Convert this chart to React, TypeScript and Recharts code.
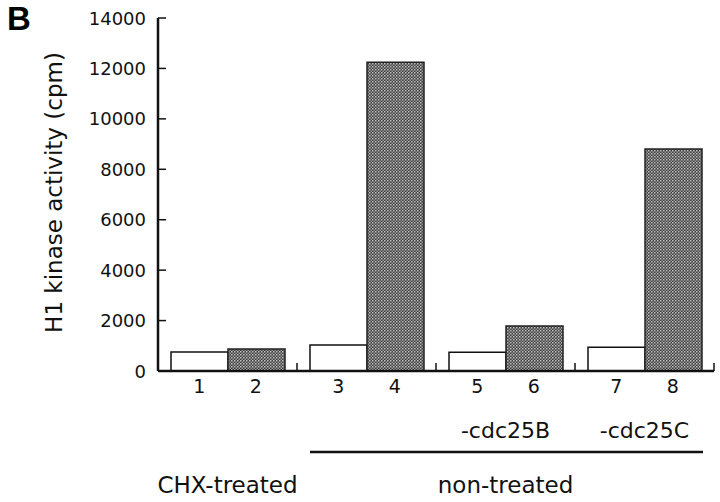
import React from 'react';
import { BarChart, Bar, XAxis, YAxis, Label } from 'recharts';

const groups = ['g1', 'g2', 'g3', 'g4'];
const laneLabels = ['1', '2', '3', '4', '5', '6', '7', '8'];
const subLabels = ['', '', '-cdc25B', '-cdc25C'];
const whiteValues = [750, 1030, 740, 940];
const grayValues = [870, 12250, 1780, 8800];
const yTicks = [0, 2000, 4000, 6000, 8000, 10000, 12000, 14000];
const treatments = [
  { label: 'CHX-treated', from: 0, to: 0 },
  { label: 'non-treated', from: 1, to: 3 },
];

const data = groups.map((g, i) => ({ group: g, white: whiteValues[i], gray: grayValues[i] }));

const W = 720;
const H = 502;
const AXIS_W = 158;
const MARGIN = { top: 18, right: 6, left: 0, bottom: 0 };
const X_AXIS_H = 131;
const BAND = (W - AXIS_W - MARGIN.right) / groups.length;
const GAP = 13;
const BAR_W = (BAND - 2 * GAP) / 2;
const FONT = '"DejaVu Sans", Arial, sans-serif';

function XTick(props: any) {
  const { x, y, payload } = props;
  const i = payload.index;
  const left = x - BAND / 2 + GAP;
  const tr = treatments.find((t) => t.from === i);
  return (
    <g fontFamily={FONT} fill="#111">
      <text x={left + BAR_W / 2} y={y + 22} textAnchor="middle" fontSize={19}>{laneLabels[i * 2]}</text>
      <text x={left + BAR_W * 1.5} y={y + 22} textAnchor="middle" fontSize={19}>{laneLabels[i * 2 + 1]}</text>
      <line x1={x + BAND / 2} x2={x + BAND / 2} y1={y} y2={y - 8} stroke="#111" strokeWidth={1.5} />
      {subLabels[i] && (
        <text x={x} y={y + 67} textAnchor="middle" fontSize={22}>{subLabels[i]}</text>
      )}
      {tr && tr.to > tr.from && (
        <line
          x1={left}
          x2={x + (tr.to - tr.from) * BAND + BAND / 2 - GAP + 2}
          y1={y + 81}
          y2={y + 81}
          stroke="#111"
          strokeWidth={2.5}
        />
      )}
      {tr && (
        <text x={x + ((tr.to - tr.from) * BAND) / 2} y={y + 122} textAnchor="middle" fontSize={23}>
          {tr.label}
        </text>
      )}
    </g>
  );
}

function YTick(props: any) {
  const { x, y, payload } = props;
  return (
    <g>
      {payload.value !== 0 && <line x1={x} x2={x + 8} y1={y} y2={y} stroke="#111" strokeWidth={1.5} />}
      <text x={x - 12} y={y + 6.5} textAnchor="end" fontSize={18} fontFamily={FONT} fill="#111">
        {payload.value}
      </text>
    </g>
  );
}

function YLabel(props: any) {
  const { viewBox } = props;
  const cx = 62;
  const cy = viewBox.y + viewBox.height / 2 - 2;
  return (
    <text x={cx} y={cy} transform={`rotate(-90, ${cx}, ${cy})`} textAnchor="middle" fontSize={23} fontFamily={FONT} fill="#111">
      H1 kinase activity (cpm)
    </text>
  );
}

export default function App() {
  return (
    <div style={{ position: 'absolute', left: 0, top: 0, width: W, height: H, background: '#fff' }}>
      <svg width={0} height={0} style={{ position: 'absolute' }}>
        <defs>
          <pattern id="halftone" width={3} height={3} patternUnits="userSpaceOnUse">
            <rect width={3} height={3} fill="#3c3c3c" />
            <rect width={1.5} height={1.5} fill="#c4c4c4" />
            <rect x={1.5} y={1.5} width={1.5} height={1.5} fill="#9a9a9a" />
          </pattern>
        </defs>
      </svg>
      <div
        style={{
          position: 'absolute',
          left: 7,
          top: 0,
          fontFamily: '"Liberation Sans", Arial, sans-serif',
          fontWeight: 'bold',
          fontSize: 33,
        }}
      >
        B
      </div>
      <BarChart width={W} height={H} data={data} margin={MARGIN} barCategoryGap={GAP} barGap={0}>
        <XAxis
          dataKey="group"
          height={X_AXIS_H}
          axisLine={{ stroke: '#111', strokeWidth: 2.5 }}
          tickLine={false}
          tickSize={0}
          tickMargin={0}
          tick={<XTick />}
          interval={0}
        />
        <YAxis
          width={AXIS_W}
          domain={[0, 14000]}
          ticks={yTicks}
          axisLine={{ stroke: '#111', strokeWidth: 2.5 }}
          tickLine={false}
          tickSize={0}
          tickMargin={0}
          tick={<YTick />}
          interval={0}
        >
          <Label content={<YLabel />} />
        </YAxis>
        <Bar dataKey="white" fill="#fff" stroke="#111" strokeWidth={1.5} isAnimationActive={false} />
        <Bar dataKey="gray" fill="url(#halftone)" stroke="#222" strokeWidth={1.5} isAnimationActive={false} />
      </BarChart>
    </div>
  );
}
